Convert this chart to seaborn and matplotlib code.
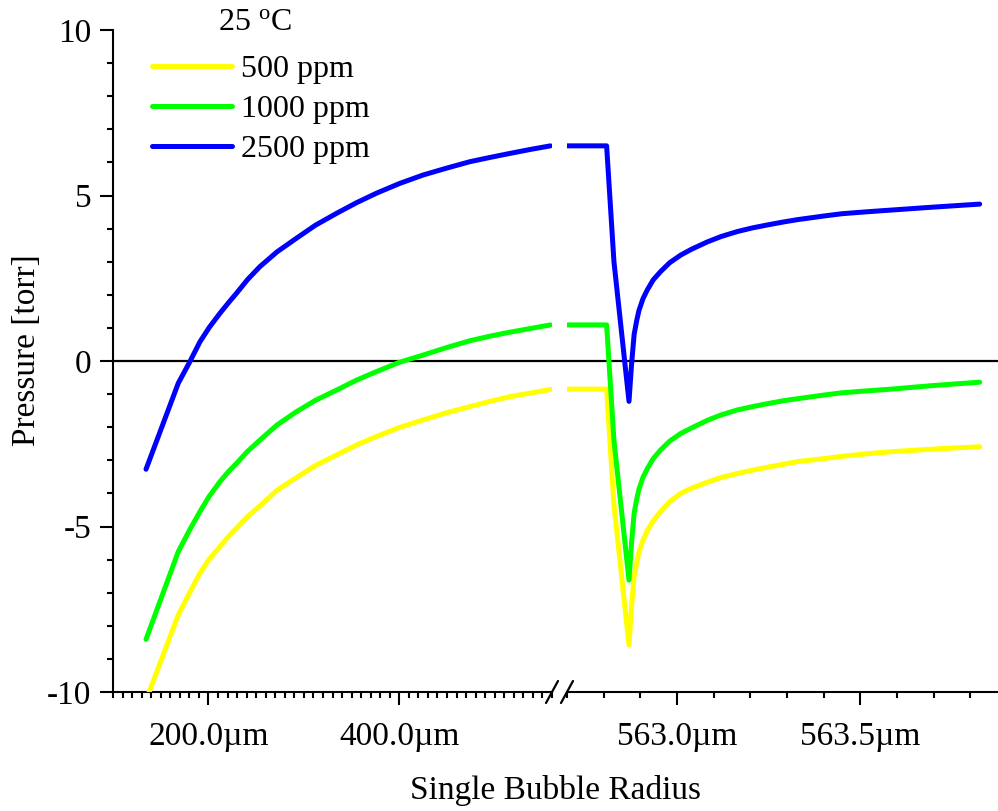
import matplotlib
matplotlib.use("Agg")
import matplotlib.pyplot as plt
from matplotlib.lines import Line2D
from matplotlib.ticker import MultipleLocator, FuncFormatter
import pandas as pd
import seaborn as sns

# Bubble radius (micrometres) on the coarse, left part of the broken axis
radius_left = [134.6, 168.4, 180.0, 191.1, 201.0, 212.0, 221.0, 229.5, 241.0,
               253.9, 272.0, 292.3, 312.0, 334.2, 355.0, 376.1, 400.0, 425.0,
               450.0, 473.8, 495.0, 515.7, 537.0, 558.3]
p500_left = [-10.25, -7.67, -7.02, -6.41, -5.98, -5.61, -5.30, -5.05, -4.70,
             -4.38, -3.90, -3.52, -3.16, -2.84, -2.54, -2.28, -2.01, -1.78,
             -1.56, -1.38, -1.22, -1.08, -0.97, -0.86]
p1000_left = [-8.41, -5.76, -5.12, -4.55, -4.08, -3.65, -3.34, -3.09, -2.73,
              -2.39, -1.93, -1.53, -1.19, -0.88, -0.58, -0.32, -0.04, 0.18,
              0.41, 0.61, 0.75, 0.87, 0.98, 1.09]
p2500_left = [-3.27, -0.67, -0.05, 0.58, 1.02, 1.44, 1.76, 2.05, 2.46,
              2.85, 3.30, 3.71, 4.10, 4.46, 4.78, 5.07, 5.36, 5.62,
              5.83, 6.02, 6.15, 6.27, 6.39, 6.50]

# Bubble radius (micrometres) on the fine, right part of the broken axis
radius_right = [562.700, 562.808, 562.828, 562.869, 562.876, 562.883, 562.890,
                562.896, 562.907, 562.919, 562.935, 562.955, 562.980, 563.010,
                563.040, 563.083, 563.120, 563.164, 563.205, 563.246, 563.290,
                563.328, 563.400, 563.450, 563.520, 563.584, 563.700, 563.825]
p500_right = [-0.85, -0.85, -4.35, -8.58, -7.40, -6.50, -6.10, -5.78, -5.42,
              -5.12, -4.83, -4.55, -4.25, -4.00, -3.84, -3.66, -3.52, -3.40,
              -3.30, -3.21, -3.12, -3.04, -2.95, -2.88, -2.80, -2.74, -2.66,
              -2.59]
p1000_right = [1.09, 1.09, -2.40, -6.62, -5.50, -4.60, -4.18, -3.88, -3.52,
               -3.25, -2.95, -2.69, -2.42, -2.19, -2.02, -1.79, -1.63, -1.48,
               -1.38, -1.29, -1.20, -1.14, -1.03, -0.96, -0.90, -0.85, -0.74,
               -0.64]
p2500_right = [6.50, 6.50, 3.00, -1.22, -0.10, 0.80, 1.22, 1.52, 1.88,
               2.15, 2.45, 2.70, 2.97, 3.20, 3.38, 3.60, 3.76, 3.91,
               4.02, 4.11, 4.20, 4.27, 4.38, 4.45, 4.51, 4.56, 4.65,
               4.74]

series_names = ["500 ppm", "1000 ppm", "2500 ppm"]
series_colors = ["#FFFF00", "#00FF00", "#0000FF"]
legend_title = "25 $^{\\rm o}$C"
x_label = "Single Bubble Radius"
y_label = "Pressure [torr]"


def long_frame(radius, columns):
    parts = []
    for name, values in zip(series_names, columns):
        parts.append(pd.DataFrame({"radius": radius, "pressure": values,
                                   "series": name}))
    return pd.concat(parts, ignore_index=True)


df_left = long_frame(radius_left, [p500_left, p1000_left, p2500_left])
df_right = long_frame(radius_right, [p500_right, p1000_right, p2500_right])
palette = dict(zip(series_names, series_colors))

sns.set_theme(style="ticks")
plt.rcParams.update({
    "font.family": ["Liberation Serif", "DejaVu Serif"],
    "mathtext.fontset": "custom",
    "mathtext.rm": "Liberation Serif",
    "mathtext.it": "Liberation Serif:italic",
    "axes.unicode_minus": False,
    "axes.edgecolor": "black",
    "axes.labelcolor": "black",
    "text.color": "black",
    "xtick.color": "black",
    "ytick.color": "black",
    "axes.linewidth": 1.5,
})

W, H = 998, 811
fig = plt.figure(figsize=(W / 100, H / 100), dpi=100)
ax1 = fig.add_axes([113 / W, 119 / H, 439 / W, 662 / H])
ax2 = fig.add_axes([567 / W, 119 / H, 431 / W, 662 / H], sharey=ax1)

line_kws = dict(linewidth=3.6, solid_capstyle="round", solid_joinstyle="round",
                zorder=3)
for ax, df in ((ax1, df_left), (ax2, df_right)):
    sns.lineplot(data=df, x="radius", y="pressure", hue="series",
                 hue_order=series_names, palette=palette, estimator=None,
                 sort=False, legend=False, ax=ax, **line_kws)
    ax.set_xlabel("")
    ax.set_ylabel("")
    for side in ("top", "right"):
        ax.spines[side].set_visible(False)

ax1.set_xlim(100, 560)
ax2.set_xlim(562.70, 563.875)
ax1.set_ylim(-10, 10)

# zero reference line, carried across the axis break
ax1.axhline(0, xmin=0, xmax=(567 - 113) / 439, color="black", lw=1.6,
            clip_on=False, zorder=1)
ax2.axhline(0, color="black", lw=1.6, zorder=1)

ax1.xaxis.set_major_locator(MultipleLocator(200))
ax1.xaxis.set_minor_locator(MultipleLocator(10))
ax2.xaxis.set_major_locator(MultipleLocator(0.5))
ax2.xaxis.set_minor_locator(MultipleLocator(0.1))
ax1.yaxis.set_major_locator(MultipleLocator(5))
ax1.yaxis.set_minor_locator(MultipleLocator(1))

fmt = FuncFormatter(lambda v, pos: f"{v:.1f}\u00b5m")
ax1.xaxis.set_major_formatter(fmt)
ax2.xaxis.set_major_formatter(fmt)
ax1.yaxis.set_major_formatter(FuncFormatter(lambda v, pos: f"{v:g}"))

for ax in (ax1, ax2):
    ax.tick_params(axis="both", which="major", direction="out", length=9.5,
                   width=1.5, labelsize=24)
    ax.tick_params(axis="both", which="minor", direction="out", length=4.5,
                   width=1.5)
    ax.tick_params(axis="x", which="major", pad=11.5)
ax1.tick_params(axis="y", which="major", pad=6)
ax2.spines["left"].set_visible(False)
ax2.tick_params(axis="y", which="both", left=False, labelleft=False)

# break marks on the x axis
for cx in (552, 567):
    fig.add_artist(Line2D([(cx - 6) / W, (cx + 6) / W],
                          [1 - 703 / H, 1 - 681 / H],
                          color="black", lw=1.6))

handles = [Line2D([], [], color=c, lw=3.6, solid_capstyle="round")
           for c in series_colors]
fig.legend(handles, series_names, loc="upper left",
           bbox_to_anchor=(152 / W, 1 - 55 / H), frameon=False, fontsize=23,
           handlelength=2.5, handletextpad=0.3, labelspacing=0.33,
           borderpad=0, borderaxespad=0)
fig.text(255 / W, 1 - 23 / H, legend_title, ha="center", va="center",
         fontsize=23)

fig.text(555 / W, 1 - 790 / H, x_label, ha="center", va="center", fontsize=24)
fig.text(27 / W, 1 - 350 / H, y_label, ha="center", va="center",
         rotation=90, fontsize=24)

fig.savefig("out.png", dpi=100)
